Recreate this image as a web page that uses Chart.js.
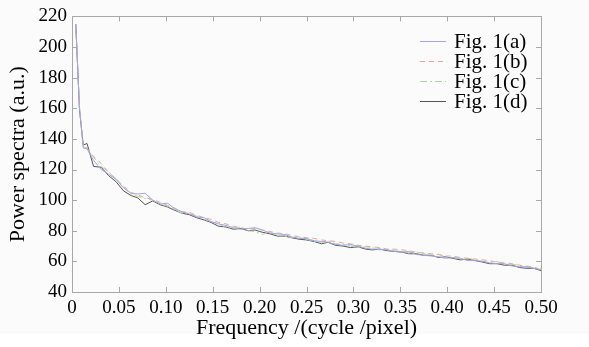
<!DOCTYPE html>
<html>
<head>
<meta charset="utf-8">
<script src="https://cdn.jsdelivr.net/npm/chart.js@4/dist/chart.umd.min.js"></script>
<style>
  html, body { margin: 0; padding: 0; background: #ffffff; }
  #wrap { width: 589px; height: 347px; }
</style>
</head>
<body>
<div id="wrap"><canvas id="spectra-chart" width="589" height="347"></canvas></div>
<script>
// Frequency samples (cycle/pixel)
const freq = [0.004, 0.008, 0.012, 0.016, 0.023, 0.031, 0.039, 0.047, 0.055, 0.063,
    0.070, 0.078, 0.086, 0.094, 0.102, 0.109, 0.117, 0.125, 0.133, 0.141,
    0.148, 0.156, 0.164, 0.172, 0.180, 0.188, 0.195, 0.203, 0.211, 0.219,
    0.227, 0.234, 0.242, 0.250, 0.258, 0.266, 0.273, 0.281, 0.289, 0.297,
    0.305, 0.313, 0.320, 0.328, 0.336, 0.344, 0.352, 0.359, 0.367, 0.375,
    0.383, 0.391, 0.398, 0.406, 0.414, 0.422, 0.430, 0.438, 0.445, 0.453,
    0.461, 0.469, 0.477, 0.484, 0.492, 0.500];

// Power spectra values
const fig1a = [215, 160, 134, 133.5, 126, 120, 117, 113.5, 108, 104.5,
    104, 104.5, 100, 97.5, 98, 94.5, 92.5, 91, 89, 88.5,
    86, 84.5, 83.5, 82, 81, 81.5, 82, 80.5, 78.5, 78,
    77.5, 76, 75, 75, 73.5, 73, 72.5, 71, 70.5, 71,
    70, 68.5, 68, 68, 67.5, 66.5, 66, 66.5, 64.5, 64,
    63.5, 63, 62, 62.5, 62, 60.5, 60.5, 60, 59, 58.5,
    58.5, 57, 56.5, 56.5, 55.5, 54.5];
const fig1b = [215, 161, 135, 134, 128.5, 124, 118, 114, 109, 105,
    103.5, 101.5, 100.5, 98.5, 96.5, 95, 92.5, 92, 90, 88.5,
    87.5, 85.5, 84.5, 83, 82, 81, 81.5, 80.5, 79.5, 78.5,
    78, 77, 76, 75.5, 75, 74, 73.5, 73, 72, 71.5,
    70.5, 70, 69.5, 69, 68, 68, 67.5, 67, 66, 65.5,
    65, 64.5, 63.5, 63.5, 62.5, 62, 61.5, 61, 60.5, 59.5,
    59, 58.5, 57.5, 57, 56.5, 54.5];
const fig1c = [215, 160, 135, 134, 128, 122, 118.5, 114, 108.5, 103.5,
    102.5, 101, 100, 97.5, 96, 94, 91.5, 91.5, 89.5, 87.5,
    86, 85, 82, 81.5, 82.5, 80, 79.5, 77.5, 79.5, 77,
    76.5, 75.5, 76, 74.5, 73, 72.5, 73.5, 71.5, 71, 70,
    69, 69.5, 69, 67.5, 68, 67, 66.5, 65.5, 66, 65,
    64, 64.5, 63, 62.5, 61.5, 62, 61, 60, 59.5, 60,
    58, 58, 57.5, 56.5, 56, 55];
const fig1d = [215, 159, 136, 137, 122, 121.5, 116, 112, 106, 103,
    101.5, 97, 99.5, 97, 95.5, 93.5, 91.5, 90.5, 88.5, 87,
    85.5, 83, 82.5, 81, 81.5, 80, 80.5, 79, 78, 76.5,
    76.5, 75.5, 74.5, 74, 73, 71.5, 72.5, 70.5, 70, 69,
    69.5, 68, 67.5, 68, 67, 66.5, 66, 65, 65, 64,
    64, 62.5, 63, 62, 61, 61.5, 60.5, 59.5, 58.5, 58.5,
    57.5, 57.5, 56, 55.5, 55.5, 54];

const seriesNames = ['Fig. 1(a)', 'Fig. 1(b)', 'Fig. 1(c)', 'Fig. 1(d)'];

// Axis ticks
const xTicks = [0, 0.05, 0.10, 0.15, 0.20, 0.25, 0.30, 0.35, 0.40, 0.45, 0.50];
const xTickLabels = ['0', '0.05', '0.10', '0.15', '0.20', '0.25', '0.30', '0.35', '0.40', '0.45', '0.50'];
const yTicks = [40, 60, 80, 100, 120, 140, 160, 180, 200, 220];

const serif = '"Liberation Serif", "Times New Roman", serif';
const frameColor = '#a8a8a8';
const textColor = '#000000';

function toPoints(values) {
    return values.map((v, i) => ({ x: freq[i], y: v }));
}

// Background, inward ticks, frame and the in-plot legend
const figurePlugin = {
    id: 'figureDecor',
    beforeDraw(chart) {
        const ctx = chart.ctx;
        ctx.save();
        ctx.fillStyle = '#fbfbfb';
        ctx.fillRect(0, 0, chart.width, 334);
        ctx.restore();
    },
    afterDraw(chart) {
        const ctx = chart.ctx;
        const area = chart.chartArea;
        const xs = chart.scales.x;
        const ys = chart.scales.y;
        const len = 5;

        ctx.save();
        ctx.strokeStyle = frameColor;
        ctx.lineWidth = 1;
        ctx.strokeRect(Math.round(area.left) + 0.5, Math.round(area.top) + 0.5,
            Math.round(area.right - area.left), Math.round(area.bottom - area.top));

        ctx.beginPath();
        xTicks.forEach(v => {
            const px = Math.round(xs.getPixelForValue(v)) + 0.5;
            ctx.moveTo(px, area.bottom);
            ctx.lineTo(px, area.bottom - len);
            ctx.moveTo(px, area.top);
            ctx.lineTo(px, area.top + len);
        });
        yTicks.forEach(v => {
            const py = Math.round(ys.getPixelForValue(v)) + 0.5;
            ctx.moveTo(area.left, py);
            ctx.lineTo(area.left + len, py);
            ctx.moveTo(area.right, py);
            ctx.lineTo(area.right - len, py);
        });
        ctx.stroke();

        // Legend
        const rowY = [41, 61, 81, 101];
        const lineX0 = 420, lineX1 = 446, textX = 454;
        ctx.font = '21px ' + serif;
        ctx.textBaseline = 'middle';
        ctx.textAlign = 'left';
        chart.data.datasets.forEach((ds, i) => {
            ctx.strokeStyle = ds.borderColor;
            ctx.lineWidth = 1;
            ctx.setLineDash(ds.borderDash || []);
            ctx.beginPath();
            ctx.moveTo(lineX0, rowY[i] + 0.5);
            ctx.lineTo(lineX1, rowY[i] + 0.5);
            ctx.stroke();
            ctx.setLineDash([]);
            ctx.fillStyle = textColor;
            ctx.fillText(ds.label, textX, rowY[i] + 1);
        });
        ctx.restore();
    }
};

const canvas = document.getElementById('spectra-chart');
const ctx = canvas.getContext('2d');

const spectraChart = new Chart(ctx, {
    type: 'line',
    data: {
        datasets: [{
            label: seriesNames[0],
            data: toPoints(fig1a),
            borderColor: '#a0a6e6',
            borderWidth: 1
        }, {
            label: seriesNames[1],
            data: toPoints(fig1b),
            borderColor: '#f2a494',
            borderDash: [5, 4],
            borderWidth: 1
        }, {
            label: seriesNames[2],
            data: toPoints(fig1c),
            borderColor: '#a8d8a2',
            borderDash: [7, 3, 2, 3],
            borderWidth: 1
        }, {
            label: seriesNames[3],
            data: toPoints(fig1d),
            borderColor: '#555555',
            borderWidth: 1
        }]
    },
    options: {
        responsive: false,
        animation: false,
        devicePixelRatio: 1,
        layout: {
            padding: { left: 0, top: 16, right: 48, bottom: 0 }
        },
        elements: {
            point: { radius: 0 },
            line: { tension: 0 }
        },
        plugins: {
            legend: { display: false },
            tooltip: { enabled: false }
        },
        scales: {
            x: {
                type: 'linear',
                min: 0,
                max: 0.5,
                afterFit: scale => { scale.height = 55; },
                afterBuildTicks: scale => {
                    scale.ticks = xTicks.map(v => ({ value: v }));
                },
                ticks: {
                    padding: 5,
                    color: textColor,
                    font: { family: serif, size: 19 },
                    maxRotation: 0,
                    autoSkip: false,
                    callback: (value, index) => xTickLabels[index]
                },
                grid: { display: false, drawTicks: false },
                border: { display: false },
                title: {
                    display: true,
                    text: 'Frequency /(cycle /pixel)',
                    color: textColor,
                    font: { family: serif, size: 22, lineHeight: 1 },
                    padding: { top: 0, bottom: 8 }
                }
            },
            y: {
                type: 'linear',
                min: 40,
                max: 220,
                afterFit: scale => { scale.width = 72; },
                afterBuildTicks: scale => {
                    scale.ticks = yTicks.map(v => ({ value: v }));
                },
                ticks: {
                    padding: 5,
                    color: textColor,
                    font: { family: serif, size: 19 },
                    autoSkip: false
                },
                grid: { display: false, drawTicks: false },
                border: { display: false },
                title: {
                    display: true,
                    text: 'Power spectra (a.u.)',
                    color: textColor,
                    font: { family: serif, size: 22, lineHeight: 1 },
                    padding: { top: 7, bottom: 0 }
                }
            }
        }
    },
    plugins: [figurePlugin]
});
</script>
</body>
</html>
